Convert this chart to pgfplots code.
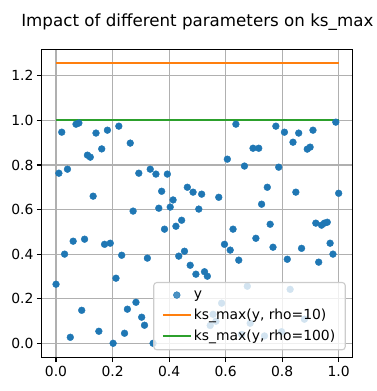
\documentclass[border=0pt]{standalone}
\usepackage{fontspec}
\setmainfont{DejaVu Sans}
\usepackage{pgfplots}
\pgfplotsset{compat=1.18}
\definecolor{C0}{HTML}{1F77B4}
\definecolor{C1}{HTML}{FF7F0E}
\definecolor{C2}{HTML}{2CA02C}
\definecolor{gridc}{HTML}{B0B0B0}
\definecolor{legc}{HTML}{CCCCCC}
\pgfplotsset{
  linelegend/.style={legend image code/.code={\draw[##1] (0pt,0pt) -- (28pt,0pt);}},
  marklegend/.style={legend image code/.code={\draw[##1] plot coordinates {(14pt,0pt)};}},
}
\begin{document}
\begin{tikzpicture}
\begin{axis}[
  at={(0pt,0pt)}, anchor=south west,
  scale only axis, width=310.9pt, height=308pt,
  xmin=-0.05, xmax=1.05, ymin=-0.0628, ymax=1.3188,
  xtick={0,0.2,0.4,0.6,0.8,1.0},
  ytick={0,0.2,0.4,0.6,0.8,1.0,1.2},
  xticklabel style={/pgf/number format/.cd, fixed, fixed zerofill, precision=1},
  yticklabel style={/pgf/number format/.cd, fixed, fixed zerofill, precision=1},
  /pgf/number format/assume math mode=true,
  tick label style={font=\fontsize{13.9}{16}\selectfont},
  tick align=outside, major tick length=4.9pt,
  tick style={black, line width=1.1pt},
  xtick pos=bottom, ytick pos=left,
  axis line style={line width=1.1pt},
  grid=major, major grid style={gridc, line width=1.1pt},
  title={Impact of different parameters on ks\_max},
  title style={at={(0.5,1)}, anchor=base, yshift=17pt, font=\fontsize{16.7}{19}\selectfont},
  legend style={at={(1,0)}, anchor=south east, xshift=-7pt, yshift=7pt,
    draw=legc, line width=1.1pt, fill=white, fill opacity=0.8, text opacity=1, draw opacity=1,
    rounded corners=3pt, font=\fontsize{13.9}{16}\selectfont,
    inner xsep=8pt, inner ysep=6pt, row sep=5pt},
  legend cell align=left,
]
\addplot[C0, only marks, mark=*, mark size=3.4pt, mark options={fill=C0, draw=C0, line width=0.4pt}, marklegend]
coordinates {
(0.0000,0.265) (0.0101,0.763) (0.0202,0.947) (0.0303,0.400) (0.0404,0.781)
(0.0505,0.027) (0.0606,0.458) (0.0707,0.983) (0.0808,0.988) (0.0909,0.148)
(0.1010,0.467) (0.1111,0.844) (0.1212,0.835) (0.1313,0.660) (0.1414,0.943)
(0.1515,0.054) (0.1616,0.872) (0.1717,0.444) (0.1818,0.956) (0.1919,0.449)
(0.2020,0.000) (0.2121,0.292) (0.2222,0.974) (0.2323,0.395) (0.2424,0.045)
(0.2525,0.153) (0.2626,0.898) (0.2727,0.593) (0.2828,0.184) (0.2929,0.763)
(0.3030,0.117) (0.3131,0.081) (0.3232,0.382) (0.3333,0.781) (0.3434,0.000)
(0.3535,0.759) (0.3636,0.606) (0.3737,0.682) (0.3838,0.512) (0.3939,0.759)
(0.4040,0.611) (0.4141,0.643) (0.4242,0.525) (0.4343,0.391) (0.4444,0.552)
(0.4545,0.413) (0.4646,0.700) (0.4747,0.350) (0.4848,0.678) (0.4949,0.310)
(0.5051,0.602) (0.5152,0.669) (0.5253,0.321) (0.5354,0.301) (0.5455,0.080)
(0.5556,0.130) (0.5657,0.099) (0.5758,0.655) (0.5859,0.180) (0.5960,0.444)
(0.6061,0.826) (0.6162,0.418) (0.6263,0.512) (0.6364,0.983) (0.6465,0.373)
(0.6566,0.040) (0.6667,0.795) (0.6768,0.256) (0.6869,0.090) (0.6970,0.875)
(0.7071,0.471) (0.7172,0.875) (0.7273,0.624) (0.7374,0.033) (0.7475,0.700)
(0.7576,0.534) (0.7677,0.431) (0.7778,0.974) (0.7879,0.790) (0.7980,0.052)
(0.8081,0.947) (0.8182,0.377) (0.8283,0.242) (0.8384,0.902) (0.8485,0.678)
(0.8586,0.943) (0.8687,0.426) (0.8788,0.108) (0.8889,0.871) (0.8990,0.880)
(0.9091,0.956) (0.9192,0.539) (0.9293,0.364) (0.9394,0.530) (0.9495,0.539)
(0.9596,0.543) (0.9697,0.449) (0.9798,0.400) (0.9899,0.992) (1.0000,0.673)
};
\addlegendentry{y}
\addplot[C1, line width=2.08pt, no marks, linelegend]
coordinates {(0,1.256) (1,1.256)};
\addlegendentry{ks\_max(y, rho=10)}
\addplot[C2, line width=2.08pt, no marks, linelegend]
coordinates {(0,1.003) (1,1.003)};
\addlegendentry{ks\_max(y, rho=100)}
\end{axis}
\pgfresetboundingbox
\path (-41.9pt,-33.7pt) rectangle (335.1pt,357.3pt);
\end{tikzpicture}
\end{document}
